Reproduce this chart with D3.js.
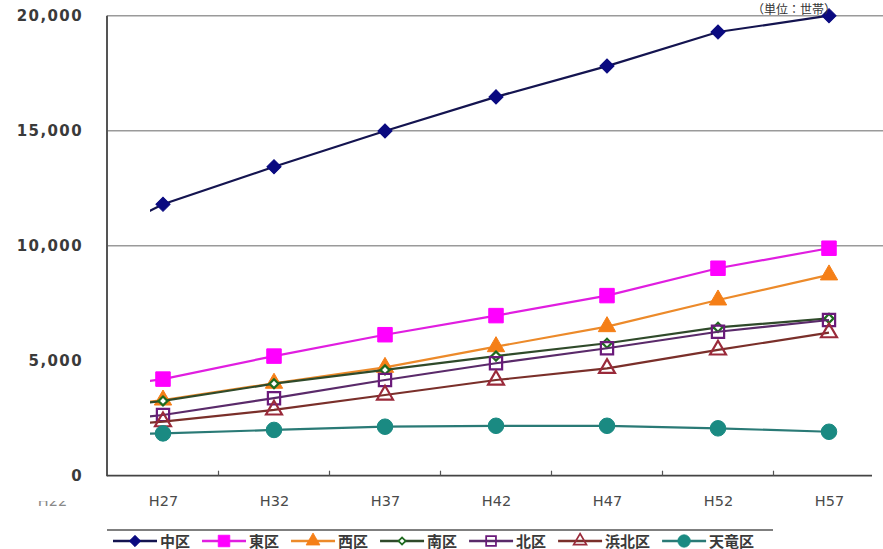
<!DOCTYPE html>
<html lang="ja">
<head>
<meta charset="utf-8">
<script src="https://cdn.jsdelivr.net/npm/d3@7"></script>
<style>
  html, body { margin: 0; padding: 0; background: #fff; }
  svg { display: block; }
</style>
</head>
<body>
<svg id="chart" width="883" height="549"></svg>
<script>
// 区別の推計値（年次：H22〜H57）
const years = ["H22", "H27", "H32", "H37", "H42", "H47", "H52", "H57"];
const naka      = [9400, 11800, 13430, 14990, 16470, 17810, 19290, 20000];
const higashi   = [3550, 4200, 5200, 6130, 6960, 7830, 9020, 9890];
const nishi     = [2750, 3290, 4020, 4710, 5610, 6480, 7640, 8730];
const minami    = [2750, 3250, 4000, 4600, 5200, 5760, 6450, 6840];
const kita      = [2150, 2640, 3370, 4160, 4890, 5540, 6260, 6770];
const hamakita  = [1950, 2350, 2860, 3510, 4160, 4670, 5470, 6220];
const tenryu    = [1750, 1840, 1990, 2130, 2170, 2170, 2060, 1910];
const yTicks = [0, 5000, 10000, 15000, 20000];
const gridValues = [10000, 15000, 20000];
const unitLabel = "（単位：世帯）";

const series = [
  { name: "中区",   values: naka,     line: "#141450", marker: "diamond",  fill: "#0a0a80", stroke: "#0a0a80" },
  { name: "東区",   values: higashi,  line: "#e01ee0", marker: "square",   fill: "#ff00ff", stroke: "#ff00ff" },
  { name: "西区",   values: nishi,    line: "#ec8a2a", marker: "triangle", fill: "#f57f17", stroke: "#f57f17" },
  { name: "南区",   values: minami,   line: "#2f4a2a", marker: "sdiamond", fill: "#ffffff", stroke: "#1f6a1f" },
  { name: "北区",   values: kita,     line: "#5a2a6a", marker: "osquare",  fill: "none",    stroke: "#6a1a7a" },
  { name: "浜北区", values: hamakita, line: "#7a2f2a", marker: "otri",     fill: "none",    stroke: "#9a2a3a" },
  { name: "天竜区", values: tenryu,   line: "#2a7a76", marker: "circle",   fill: "#1a8a82", stroke: "#1a8a82" }
];

const svg = d3.select("#chart");
const W = 883, H = 549;
const axisX = 107, plotRight = 883;

const x = d3.scalePoint().domain(years).range([52, 829]);
const y = d3.scaleLinear().domain([0, 20000]).range([475.7, 15.7]);

const defs = svg.append("defs");
defs.append("clipPath").attr("id", "plotClip")
  .append("rect").attr("x", 150).attr("y", 0).attr("width", W - 150).attr("height", 480);
const xClip = defs.append("clipPath").attr("id", "xLabelClip");
xClip.append("rect").attr("x", 0).attr("y", 501).attr("width", 107).attr("height", 20);
xClip.append("rect").attr("x", 107).attr("y", 480).attr("width", W - 107).attr("height", 45);

// 目盛線
svg.append("g").selectAll("line").data(gridValues).join("line")
  .attr("x1", axisX).attr("x2", plotRight)
  .attr("y1", d => y(d)).attr("y2", d => y(d))
  .attr("stroke", "#9a9a9a").attr("stroke-width", 1.5);

// 縦軸ラベル
const yAxis = svg.append("g")
  .attr("transform", `translate(${axisX},0)`)
  .call(d3.axisLeft(y).tickValues(yTicks).tickSize(0).tickPadding(24).tickFormat(d3.format(",")));
yAxis.select(".domain").remove();
yAxis.selectAll("text")
  .attr("font-family", "'DejaVu Sans', Verdana, sans-serif")
  .attr("font-size", 15).attr("font-weight", "bold")
  .attr("letter-spacing", "1.4px")
  .attr("fill", "#3a3a3a");

// 軸線
svg.append("line").attr("x1", axisX).attr("x2", axisX)
  .attr("y1", y(20000)).attr("y2", y(0) + 0.5)
  .attr("stroke", "#555").attr("stroke-width", 2);
svg.append("line").attr("x1", axisX).attr("x2", 872)
  .attr("y1", y(0)).attr("y2", y(0))
  .attr("stroke", "#444").attr("stroke-width", 1.8);

// 横軸の区切り目盛（項目の間）
const step = x.step();
svg.append("g").selectAll("line").data(years.slice(1, -1)).join("line")
  .attr("x1", d => x(d) + step / 2).attr("x2", d => x(d) + step / 2)
  .attr("y1", y(0) - 5).attr("y2", y(0))
  .attr("stroke", "#555").attr("stroke-width", 1.2);

// 横軸ラベル（左端の H22 は上部が欠けている）
const xAxis = svg.append("g").attr("clip-path", "url(#xLabelClip)")
  .append("g")
  .attr("transform", `translate(0,${y(0)})`)
  .call(d3.axisBottom(x).tickSize(0).tickPadding(20));
xAxis.select(".domain").remove();
xAxis.selectAll("text")
  .attr("font-family", "'DejaVu Sans', Tahoma, sans-serif")
  .attr("font-size", 14.5)
  .attr("fill", "#4a4a4a");
xAxis.selectAll(".tick").filter(d => d === "H22").select("text").attr("fill", "#888");

// 系列
function markerPath(type) {
  switch (type) {
    case "diamond":  return d3.symbol().type(d3.symbolSquare).size(100)();
    case "square":   return d3.symbol().type(d3.symbolSquare).size(210)();
    case "triangle": return d3.symbol().type(d3.symbolTriangle).size(130)();
    case "sdiamond": return d3.symbol().type(d3.symbolSquare).size(40)();
    case "osquare":  return d3.symbol().type(d3.symbolSquare).size(150)();
    case "otri":     return d3.symbol().type(d3.symbolTriangle).size(110)();
    case "circle":   return d3.symbol().type(d3.symbolCircle).size(190)();
  }
}
function markerRotate(type) {
  return (type === "diamond" || type === "sdiamond") ? 45 : 0;
}

const line = d3.line().x((d, i) => x(years[i])).y(d => y(d));
const plot = svg.append("g").attr("clip-path", "url(#plotClip)");

series.forEach(s => {
  const g = plot.append("g");
  g.append("path").datum(s.values)
    .attr("d", line).attr("fill", "none")
    .attr("stroke", s.line).attr("stroke-width", 2.2);
  g.selectAll("path.m").data(s.values).join("path").attr("class", "m")
    .attr("d", markerPath(s.marker))
    .attr("transform", (d, i) => `translate(${x(years[i])},${y(d)}) rotate(${markerRotate(s.marker)})`)
    .attr("fill", s.fill).attr("stroke", s.stroke)
    .attr("stroke-width", (s.fill === "none" || s.fill === "#ffffff") ? 2.2 : 1);
});

// 単位表記
svg.append("text")
  .attr("x", 752).attr("y", 14)
  .attr("font-family", "'Noto Sans CJK JP', sans-serif")
  .attr("font-size", 12).attr("fill", "#333")
  .text(unitLabel);

// 凡例
const legendY = 541;
svg.append("line").attr("x1", axisX).attr("x2", 773)
  .attr("y1", 530).attr("y2", 530)
  .attr("stroke", "#555").attr("stroke-width", 1.5);
const legend = svg.append("g");
let cx = 113;
const lineLen = 44;
series.forEach(s => {
  const g = legend.append("g");
  g.append("line").attr("x1", cx).attr("x2", cx + lineLen)
    .attr("y1", legendY).attr("y2", legendY)
    .attr("stroke", s.line).attr("stroke-width", 2.4);
  const scale = 0.8;
  g.append("path").attr("d", markerPath(s.marker))
    .attr("transform", `translate(${cx + lineLen / 2},${legendY}) rotate(${markerRotate(s.marker)}) scale(${scale})`)
    .attr("fill", s.fill).attr("stroke", s.stroke)
    .attr("stroke-width", (s.fill === "none" || s.fill === "#ffffff") ? 2.2 : 1);
  const t = g.append("text").attr("x", cx + lineLen + 3).attr("y", legendY + 5.5)
    .attr("font-family", "'Noto Sans CJK JP', sans-serif")
    .attr("font-size", 15).attr("font-weight", "bold").attr("fill", "#3a3a3a")
    .text(s.name);
  cx = cx + lineLen + 3 + t.node().getComputedTextLength() + 12;
});
</script>
</body>
</html>
